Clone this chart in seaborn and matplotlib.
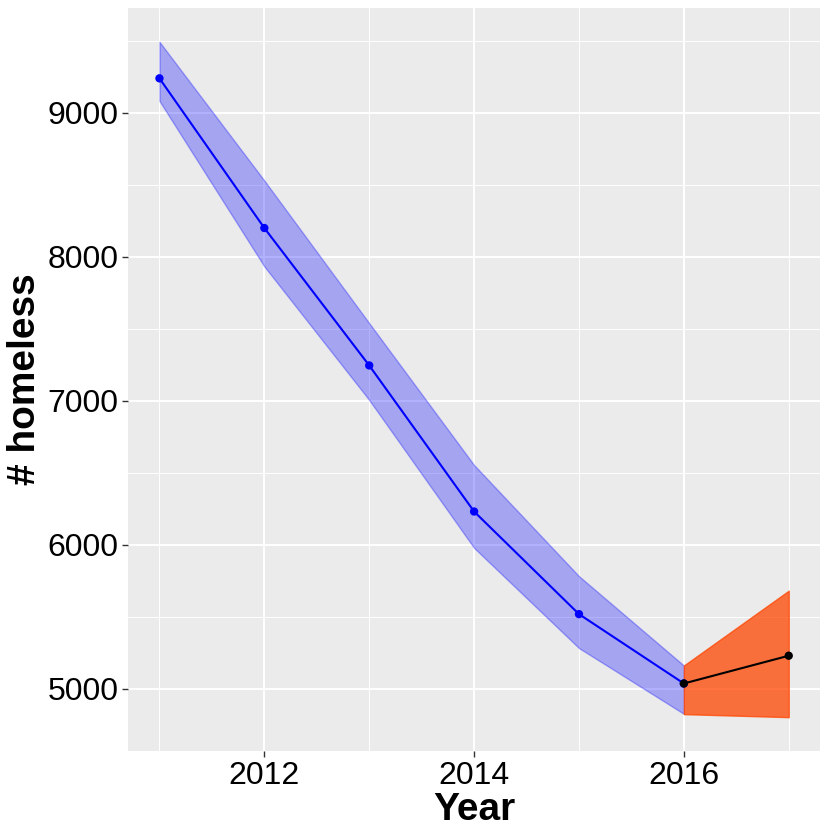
import numpy as np
import pandas as pd
import matplotlib
matplotlib.use("Agg")
import matplotlib.pyplot as plt
import seaborn as sns
from matplotlib.ticker import MultipleLocator

# observed series (with band)
years = [2011, 2012, 2013, 2014, 2015, 2016]
homeless = [9240, 8200, 7245, 6230, 5517, 5035]
lower = [9083, 7933, 7005, 5977, 5281, 4824]
upper = [9494, 8530, 7539, 6553, 5781, 5160]

# forecast
fc_years = [2016, 2017]
fc_homeless = [5035, 5228]
fc_lower = [4822, 4801]
fc_upper = [5160, 5680]

obs = pd.DataFrame({"Year": years, "homeless": homeless, "lo": lower, "hi": upper})
fc = pd.DataFrame({"Year": fc_years, "homeless": fc_homeless, "lo": fc_lower, "hi": fc_upper})

sns.set_theme(style="darkgrid", rc={
    "axes.facecolor": "#EBEBEB",
    "grid.color": "white",
    "axes.edgecolor": "#EBEBEB",
    "axes.labelcolor": "black",
    "text.color": "black",
})
plt.rcParams["font.family"] = ["Liberation Sans", "DejaVu Sans"]

fig = plt.figure(figsize=(8.3, 8.3), dpi=100)
ax = fig.add_axes([0.1542, 0.0952, 0.834, 0.8952])

# ribbons
ax.fill_between(obs["Year"], obs["lo"], obs["hi"], color="blue", alpha=0.3,
                edgecolor=(0, 0, 1, 0.35), linewidth=1, zorder=2)
ax.fill_between(fc["Year"], fc["lo"], fc["hi"], color="orangered", alpha=0.75,
                edgecolor="orangered", linewidth=1, zorder=3)

# lines and points
sns.lineplot(data=obs, x="Year", y="homeless", color="blue", linewidth=1.5, ax=ax, zorder=4)
sns.scatterplot(data=obs, x="Year", y="homeless", color="blue", s=36, edgecolor="none", ax=ax, zorder=5)
sns.lineplot(data=fc, x="Year", y="homeless", color="black", linewidth=1.5, ax=ax, zorder=6)
sns.scatterplot(data=fc, x="Year", y="homeless", color="black", s=36, edgecolor="none", ax=ax, zorder=7)

ax.set_xlim(2010.7, 2017.3)
ax.set_ylim(4566, 9729)
ax.xaxis.set_major_locator(MultipleLocator(2))
ax.xaxis.set_minor_locator(MultipleLocator(1))
ax.yaxis.set_major_locator(MultipleLocator(1000))
ax.yaxis.set_minor_locator(MultipleLocator(500))
ax.grid(which="major", color="white", linewidth=1.4)
ax.grid(which="minor", color="white", linewidth=0.7)
ax.set_axisbelow(True)

ax.tick_params(axis="both", which="major", length=4, width=1.0, color="#333333",
               labelsize=23, labelcolor="black", pad=3, bottom=True, left=True)
ax.tick_params(axis="both", which="minor", length=0)
ax.set_xlabel("Year", fontsize=28, fontweight="bold", color="black", labelpad=1)
ax.set_ylabel("# homeless", fontsize=28, fontweight="bold", color="black", labelpad=3)
for s in ax.spines.values():
    s.set_visible(False)

fig.savefig("out.png", dpi=100)
